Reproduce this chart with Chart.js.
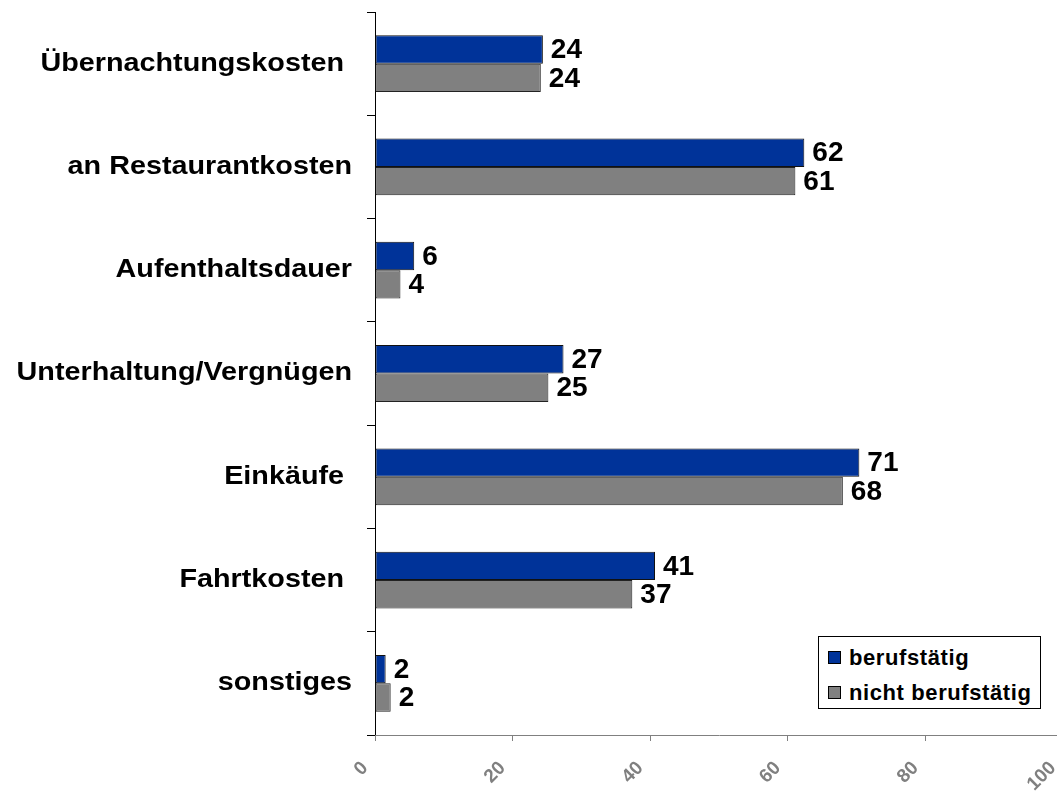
<!DOCTYPE html>
<html>
<head>
<meta charset="utf-8">
<script src="https://cdn.jsdelivr.net/npm/chart.js@4"></script>
<style>
    html, body { margin: 0; padding: 0; background: #fff; overflow: hidden; }
    #wrap { position: relative; width: 1057px; height: 791px; overflow: hidden; }
    #chart { position: absolute; left: 0; top: 0; }
    #legend {
        position: absolute; left: 818px; top: 636px; width: 223px; height: 73px;
        box-sizing: border-box; border: 1px solid #000; background: #fff;
        padding-top: 3px;
        font: bold 22px "Liberation Sans", Arial, sans-serif; letter-spacing: 0.6px; color: #000;
    }
    #legend .item { display: flex; align-items: center; height: 35px; }
    #legend .box { width: 13px; height: 13px; box-sizing: border-box; border: 1px solid #000; margin: 0 8px 0 9px; }
</style>
</head>
<body>
<div id="wrap">
    <canvas id="chart" width="1065" height="791"></canvas>
    <div id="legend"></div>
</div>
<script>
// categories (top to bottom)
const categories = [
    "Übernachtungskosten ",
    "an Restaurantkosten",
    "Aufenthaltsdauer",
    "Unterhaltung/Vergnügen",
    "Einkäufe ",
    "Fahrtkosten ",
    "sonstiges"
];

// bar lengths
const berufstaetig = [24.4, 62.4, 5.7, 27.4, 70.4, 40.7, 1.55];
const nichtBerufstaetig = [24.1, 61.1, 3.7, 25.2, 68.0, 37.4, 2.28];

// printed value labels
const berufstaetigLabels = [24, 62, 6, 27, 71, 41, 2];
const nichtBerufstaetigLabels = [24, 61, 4, 25, 68, 37, 2];

// x axis
const xMin = 0;
const xMax = 100;
const xStep = 20;

const seriesNames = ["berufstätig", "nicht berufstätig"];
const seriesColors = ["#003399", "#808080"];
const valueLabels = [berufstaetigLabels, nichtBerufstaetigLabels];

const fontFamily = '"Liberation Sans", Arial, sans-serif';

// draws the numbers at the end of each bar
const valueLabelPlugin = {
    id: "valueLabels",
    afterDatasetsDraw(chart) {
        const ctx = chart.ctx;
        ctx.save();
        ctx.font = `bold 28px ${fontFamily}`;
        ctx.fillStyle = "#000";
        ctx.textAlign = "left";
        ctx.textBaseline = "middle";
        chart.data.datasets.forEach((ds, i) => {
            const meta = chart.getDatasetMeta(i);
            meta.data.forEach((bar, j) => {
                ctx.fillText(String(valueLabels[i][j]), bar.x + 8, bar.y + 1);
            });
        });
        ctx.restore();
    }
};

// category labels are stretched sideways in the original
const wideLabelsPlugin = {
    id: "wideLabels",
    afterLayout(chart) {
        const y = chart.scales.y;
        if (y._wrapped) return;
        const orig = y.drawLabels;
        y.drawLabels = function (area) {
            const ctx = chart.ctx;
            const xr = this.right - 8 - 15;
            ctx.save();
            ctx.translate(xr, 0);
            ctx.scale(1.15, 1);
            ctx.translate(-xr, 0);
            orig.call(this, area);
            ctx.restore();
        };
        y._wrapped = true;
    }
};

const chart = new Chart(document.getElementById("chart"), {
    type: "bar",
    data: {
        labels: categories,
        datasets: [
            {
                label: seriesNames[0],
                data: berufstaetig,
                backgroundColor: seriesColors[0],
                borderColor: "#111",
                borderWidth: 1,
                borderSkipped: false
            },
            {
                label: seriesNames[1],
                data: nichtBerufstaetig,
                backgroundColor: seriesColors[1],
                borderColor: "#222",
                borderWidth: 1,
                borderSkipped: false
            }
        ]
    },
    options: {
        indexAxis: "y",
        responsive: false,
        animation: false,
        devicePixelRatio: 1,
        categoryPercentage: 0.55,
        barPercentage: 1.0,
        layout: { padding: { top: 12, left: 0, right: 2, bottom: 0 } },
        plugins: {
            legend: { display: false },
            tooltip: { enabled: false }
        },
        scales: {
            y: {
                type: "category",
                offset: true,
                grid: {
                    offset: true,
                    drawOnChartArea: false,
                    drawTicks: true,
                    tickLength: 8,
                    color: "#000"
                },
                border: { display: true, color: "#000", width: 1 },
                ticks: {
                    color: "#000",
                    padding: 15,
                    font: { family: fontFamily, size: 25, weight: "bold" }
                },
                afterFit(scale) {
                    scale.width = 375;
                    scale.paddingTop = 0;
                    scale.paddingBottom = 0;
                }
            },
            x: {
                min: xMin,
                max: xMax,
                grid: {
                    drawOnChartArea: false,
                    drawTicks: true,
                    tickLength: 6,
                    color: "#808080"
                },
                border: { display: true, color: "#808080", width: 1 },
                ticks: {
                    stepSize: xStep,
                    color: "#808080",
                    minRotation: 45,
                    maxRotation: 45,
                    padding: 16,
                    labelOffset: -10,
                    font: { family: fontFamily, size: 19, weight: "bold" }
                },
                afterFit(scale) {
                    scale.height = 56;
                    scale.paddingLeft = 0;
                    scale.paddingRight = 0;
                }
            }
        }
    },
    plugins: [valueLabelPlugin, wideLabelsPlugin]
});
chart.draw();

// legend box
const legend = document.getElementById("legend");
chart.data.datasets.forEach(ds => {
    const item = document.createElement("div");
    item.className = "item";
    const box = document.createElement("span");
    box.className = "box";
    box.style.background = ds.backgroundColor;
    const txt = document.createElement("span");
    txt.textContent = ds.label;
    item.appendChild(box);
    item.appendChild(txt);
    legend.appendChild(item);
});
</script>
</body>
</html>
